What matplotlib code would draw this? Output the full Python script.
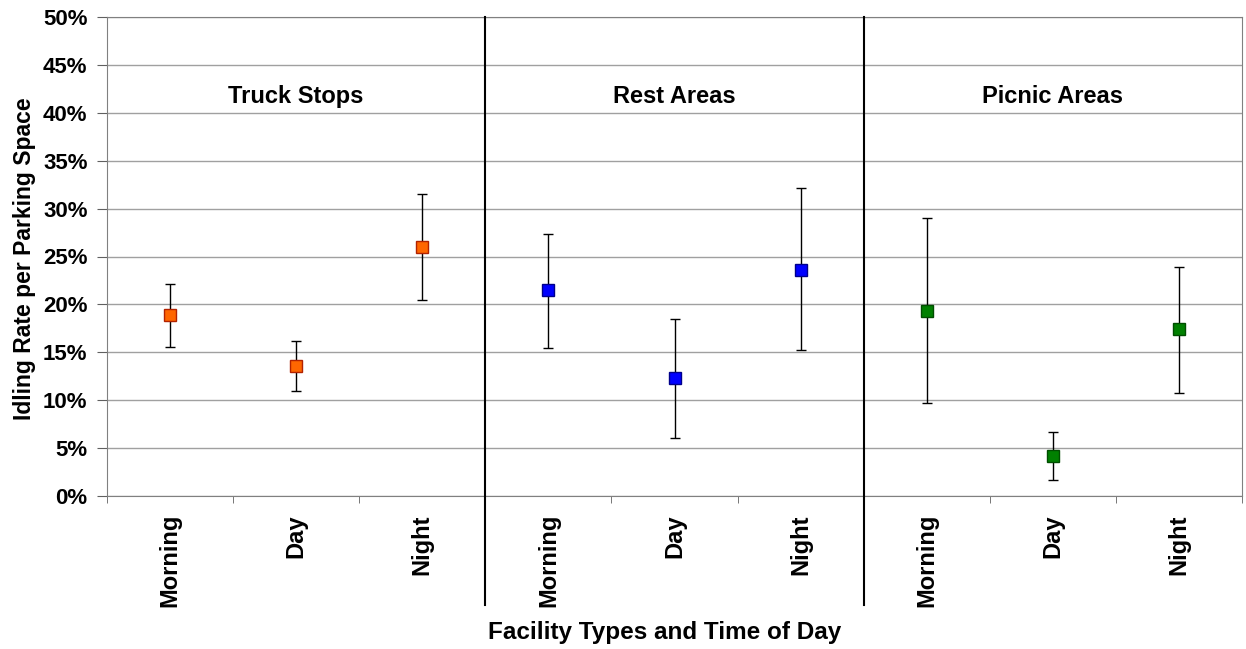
import numpy as np
import matplotlib
matplotlib.use("Agg")
import matplotlib.pyplot as plt
from matplotlib.ticker import PercentFormatter

plt.rcParams['font.family'] = ['Liberation Sans', 'DejaVu Sans']

groups = ["Truck Stops", "Rest Areas", "Picnic Areas"]
times = ["Morning", "Day", "Night"]
colors = ["#ff6600", "#0000ff", "#008000"]
edges = ["#b22200", "#00008b", "#004d00"]

# idling rate (%) with lower / upper bounds of the error bars
means = [[18.9, 13.6, 26.0],
         [21.5, 12.3, 23.6],
         [19.3, 4.2, 17.4]]
lows = [[15.6, 11.0, 20.5],
        [15.4, 6.1, 15.2],
        [9.7, 1.7, 10.8]]
highs = [[22.1, 16.2, 31.5],
         [27.4, 18.5, 32.1],
         [29.0, 6.7, 23.9]]

fig = plt.figure(figsize=(12.46, 6.49), dpi=100)
ax = fig.add_axes([107/1246, 153/649, 1135/1246, 479/649])

for g in range(3):
    x = np.arange(3) + g*3
    m = np.array(means[g])
    err = [m - np.array(lows[g]), np.array(highs[g]) - m]
    ax.errorbar(x, m, yerr=err, fmt='s', color=colors[g], markeredgecolor=edges[g],
                markersize=8.5, ecolor='black', elinewidth=1, capsize=3.5, capthick=1, zorder=3)
    ax.text(g*3 + 1, 41.7, groups[g], ha='center', va='center', fontsize=17, fontweight='bold')

for xs in [2.5, 5.5]:
    ax.axvline(xs, ymin=-0.228, ymax=1, color='black', lw=1.5, clip_on=False, zorder=4)

ax.set_xlim(-0.5, 8.5)
ax.set_ylim(0, 50)
ax.set_yticks(np.arange(0, 51, 5))
ax.yaxis.set_major_formatter(PercentFormatter(decimals=0))
ax.yaxis.grid(True, color='#a0a0a0', lw=1)
ax.set_axisbelow(True)

ax.set_xticks(np.arange(9))
ax.set_xticklabels(times*3, rotation=90, fontsize=17, fontweight='bold')
ax.set_xticks(np.arange(-0.5, 9, 1), minor=True)
ax.tick_params(axis='x', which='major', length=0, pad=13)
ax.tick_params(axis='x', which='minor', length=5, color='#606060')
ax.tick_params(axis='y', length=7, color='#606060', labelsize=16, pad=7)
for lab in ax.get_yticklabels():
    lab.set_fontweight('bold')

for s in ax.spines.values():
    s.set_color('#808080')

ax.set_ylabel("Idling Rate per Parking Space", fontsize=16.5, fontweight='bold', va='center')
ax.yaxis.set_label_coords(-0.073, 0.495)
ax.set_xlabel("Facility Types and Time of Day", fontsize=17.5, fontweight='bold', va='center')
ax.xaxis.set_label_coords(0.4916, -0.286)

fig.savefig("out.png", dpi=100)
